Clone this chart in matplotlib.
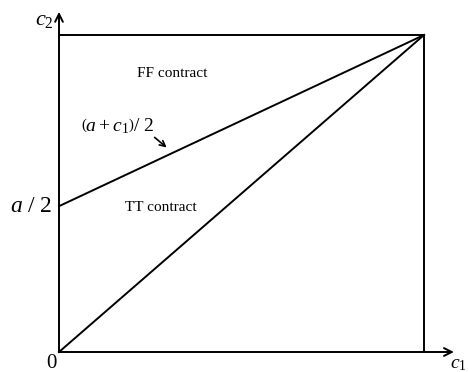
import matplotlib
matplotlib.use("Agg")
import matplotlib.pyplot as plt

plt.rcParams["font.family"] = ["Liberation Serif", "DejaVu Serif"]
plt.rcParams["mathtext.fontset"] = "custom"
plt.rcParams["mathtext.rm"] = "Liberation Serif"
plt.rcParams["mathtext.it"] = "Liberation Serif:italic"

# Cost space: c1 on x, c2 on y, both scaled so that the box corner is (1, 1)
box_max = 1.0
ff_intercept = 0.46          # a/2 on the c2 axis
line_x = [0.0, box_max]
ff_line = [ff_intercept, box_max]   # (a + c1)/2 boundary
tt_line = [0.0, box_max]            # diagonal boundary
axis_ext = [1.082, 1.073]           # how far the arrows run past the box

fig = plt.figure(figsize=(4.69, 3.72), dpi=100)
ax = fig.add_axes([0, 0, 1, 1])
ax.set_xlim(-59 / 365, 410 / 365)
ax.set_ylim(-20 / 317, 352 / 317)
ax.axis("off")

lw = 1.4
# box
ax.plot([0, box_max], [box_max, box_max], color="black", lw=lw)
ax.plot([box_max, box_max], [0, box_max], color="black", lw=lw)
# boundaries
ax.plot(line_x, ff_line, color="black", lw=lw)
ax.plot(line_x, tt_line, color="black", lw=lw)

# axes with open arrowheads
arrow = dict(arrowstyle="->", color="black", lw=lw, mutation_scale=14, shrinkA=0, shrinkB=0)
ax.annotate("", xy=(axis_ext[0], 0), xytext=(0, 0), arrowprops=arrow)
ax.annotate("", xy=(0, axis_ext[1]), xytext=(0, 0), arrowprops=arrow)

ax.text(-0.04, 1.047, r"$c_2$", fontsize=16, ha="center", va="center")
ax.text(1.095, -0.038, r"$c_1$", fontsize=14, ha="center", va="center")
ax.text(-0.022, -0.036, "0", fontsize=15, ha="center", va="center")
ax.text(-0.075, ff_intercept, r"$a\ /\ 2$", fontsize=17, ha="center", va="center")

ax.text(0.31, 0.878, "FF contract", fontsize=11, ha="center", va="center")
ax.text(0.278, 0.455, "TT contract", fontsize=11, ha="center", va="center")

ax.text(0.16, 0.713, r"$\left(a+c_1\right)/\ 2$", fontsize=14, ha="center", va="center")
ax.annotate("", xy=(0.295, 0.645), xytext=(0.262, 0.677),
            arrowprops=dict(arrowstyle="->", color="black", lw=1.2, mutation_scale=10,
                            shrinkA=0, shrinkB=0))

fig.savefig("out.png", dpi=100)
